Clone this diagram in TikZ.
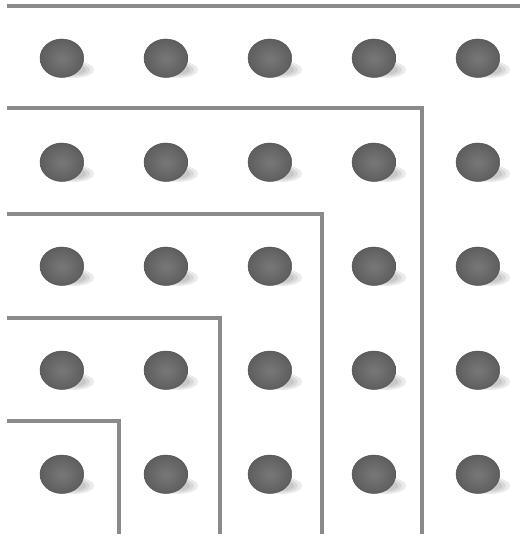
\documentclass[tikz,border=0pt]{standalone}
\usetikzlibrary{shapes.geometric}
\definecolor{beadgray}{RGB}{102,102,102}
\definecolor{fencegray}{RGB}{138,138,138}

\begin{document}
\begin{tikzpicture}[
  bead/.style={ellipse, draw=beadgray!85!black, line width=0.3pt, inner color=beadgray!88!white, outer color=beadgray!92!black, inner sep=0pt, minimum width=0.84cm, minimum height=0.74cm},
  smear/.style={fill=black, opacity=0.08},
  fence/.style={draw=fencegray, line width=2.3pt},
]
\useasboundingbox (0,0) rectangle (10,-10.365);

% top border
\draw[fence] (0.135,-0.115) -- (10,-0.115);

% nested corners
\foreach \k/\vx/\hy in {1/8.115/2.077, 2/6.192/4.115, 3/4.231/6.115, 4/2.288/8.096}{
  \draw[fence] (0.135,-\hy) -- (\vx,-\hy) -- (\vx,-10.27);
}

% beads with their shadows
\foreach \i in {0,...,4}{
  \foreach \j in {0,...,4}{
    \coordinate (c-\i-\j) at ({1.19+2*\i},{-1.12-2*\j});
    \foreach \r in {1.0,0.8,0.6}{
      \fill[smear] ([xshift=0.24cm, yshift=-0.22cm]c-\i-\j) ellipse ({0.38*\r} and {0.16*\r});
    }
    \node[bead] (b-\i-\j) at (c-\i-\j) {};
  }
}
\end{tikzpicture}
\end{document}
